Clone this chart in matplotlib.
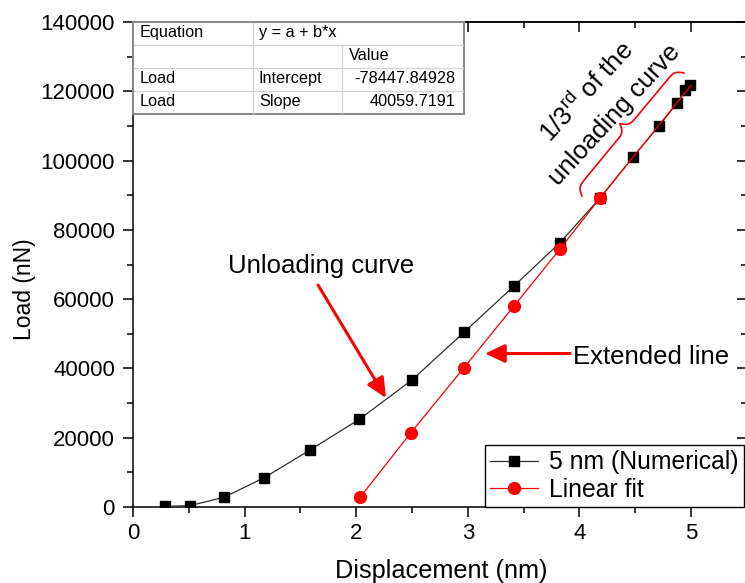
import numpy as np
import matplotlib
matplotlib.use('Agg')
import matplotlib.pyplot as plt
from matplotlib.patches import Rectangle
from matplotlib.lines import Line2D
from matplotlib.ticker import MultipleLocator

plt.rcParams['font.family'] = ['Liberation Sans', 'DejaVu Sans']
plt.rcParams['mathtext.fontset'] = 'custom'
plt.rcParams['mathtext.rm'] = 'Liberation Sans'

# ---- data ----
num_x = [0.287, 0.511, 0.815, 1.176, 1.586, 2.028, 2.50, 2.966, 3.414, 3.826,
         4.185, 4.48, 4.713, 4.875, 4.946, 4.99]
num_y = [200, 400, 2800, 8460, 16450, 25320, 36660, 50430, 63790, 76300,
         89200, 101000, 110000, 116600, 120400, 121800]
fit_x = [2.035, 2.49, 2.966, 3.414, 3.826, 4.185]
fit_y = [2800, 21450, 40210, 58020, 74470, 89200]
fit_ext_x = [4.185, 5.0]
fit_ext_y = [89200, 121700]

series_labels = ["5 nm (Numerical)", "Linear fit"]
x_label = "Displacement (nm)"
y_label = "Load (nN)"

table_rows = [["Equation", "y = a + b*x", ""],
              ["", "", "Value"],
              ["Load", "Intercept", "-78447.84928"],
              ["Load", "Slope", "40059.7191"]]

W, H = 745, 583
fig = plt.figure(figsize=(W / 100, H / 100), dpi=100)


def fx(px):
    return px / W


def fy(py):
    return 1 - py / H


ax = fig.add_axes([fx(133), fy(507), 613.8 / W, 485 / H])
ax.set_xlim(0, 5.5)
ax.set_ylim(0, 140000)

l1, = ax.plot(num_x, num_y, color='#303030', lw=0.9, marker='s', ms=7.7,
              mfc='black', mec='black', zorder=3)
l2, = ax.plot(fit_x, fit_y, color='red', lw=0.9, marker='o', ms=8.5,
              mfc='red', mec='red', zorder=4)
ax.plot(fit_ext_x, fit_ext_y, color='red', lw=0.9, zorder=4)

for sp in ax.spines.values():
    sp.set_linewidth(1.1)

ax.xaxis.set_major_locator(MultipleLocator(1))
ax.xaxis.set_minor_locator(MultipleLocator(0.5))
ax.yaxis.set_major_locator(MultipleLocator(20000))
ax.yaxis.set_minor_locator(MultipleLocator(10000))
ax.ticklabel_format(style='plain', axis='y', useOffset=False)
ax.tick_params(which='major', direction='out', length=7, width=1.1,
               labelsize=16, pad=4.5)
ax.tick_params(which='minor', direction='out', length=4, width=1.1)
ax.tick_params(axis='y', which='major', pad=6)

secx = ax.secondary_xaxis('top')
secx.xaxis.set_major_locator(MultipleLocator(1))
secx.xaxis.set_minor_locator(MultipleLocator(0.5))
secx.tick_params(which='major', direction='in', length=7, width=1.1,
                 labeltop=False)
secx.tick_params(which='minor', direction='in', length=4, width=1.1)
secx.spines['top'].set_linewidth(1.1)

secy = ax.secondary_yaxis('right')
secy.yaxis.set_major_locator(MultipleLocator(20000))
secy.yaxis.set_minor_locator(MultipleLocator(10000))
secy.tick_params(which='major', direction='in', length=7, width=1.1,
                 labelright=False)
secy.tick_params(which='minor', direction='in', length=4, width=1.1)

ax.set_xlabel(x_label, fontsize=18.2)
ax.xaxis.label.set_va('center')
ax.xaxis.set_label_coords((441 - 133) / 613.8, (507 - 571) / 485)
ax.set_ylabel(y_label, fontsize=16.5)
ax.yaxis.label.set_va('center')
ax.yaxis.set_label_coords((24 - 133) / 613.8, (507 - 289) / 485)

# ---- annotations ----
red = 'red'
arrow_style = '-|>,head_length=0.75,head_width=0.35'
ax.annotate('', xy=(2.267, 31460), xytext=(1.658, 64080),
            arrowprops=dict(arrowstyle=arrow_style, color=red, lw=2.2,
                            mutation_scale=16, shrinkA=0, shrinkB=0))
ax.annotate('', xy=(3.154, 44300), xytext=(3.916, 44300),
            arrowprops=dict(arrowstyle=arrow_style, color=red, lw=2.2,
                            mutation_scale=16, shrinkA=0, shrinkB=0))
ax.text(0.851, 69570, "Unloading curve", fontsize=18.5, ha='left', va='center')
ax.text(3.943, 43300, "Extended line", fontsize=18.5, ha='left', va='center')

ang = 47.4
ax.text(4.064, 119800, "1/3$^{\\rm rd}$ of the", fontsize=18.5, rotation=ang,
        rotation_mode='anchor', ha='center', va='center')
ax.text(4.315, 113150, "unloading curve", fontsize=18.5, rotation=ang,
        rotation_mode='anchor', ha='center', va='center')

# curly brace (built in display space, converted back to data)
P0 = ax.transData.transform((4.023, 89770))
P1 = ax.transData.transform((4.937, 125280))
d = P1 - P0
L = np.hypot(*d)
t = d / L
n = np.array([-t[1], t[0]])
h = 17.0
beta = 0.42
u_half = np.linspace(0, L / 2, 200)
y_half = 1 / (1 + np.exp(-beta * u_half)) + 1 / (1 + np.exp(-beta * (u_half - L / 2)))
yv = np.concatenate((y_half, y_half[-2::-1]))
uv = np.concatenate((u_half, L - u_half[-2::-1]))
vv = (yv - 0.5) * h
pts = P0 + np.outer(uv, t) + np.outer(vv, n)
dat = ax.transData.inverted().transform(pts)
ax.plot(dat[:, 0], dat[:, 1], color=red, lw=1.2, clip_on=False, zorder=5)

# ---- legend ----
leg = ax.legend([l1, l2], series_labels, loc='lower left',
                bbox_to_anchor=(fx(485), fy(507)), bbox_transform=fig.transFigure,
                frameon=True, fancybox=False, edgecolor='black', framealpha=1,
                borderaxespad=0, borderpad=0.2, handlelength=1.95,
                handletextpad=0.45, labelspacing=0.15, fontsize=17.8)
leg.get_frame().set_linewidth(1.0)

# ---- fit table ----
row_edges = [22.5, 45, 67.5, 90.5, 114]
text_centers = [32.5, 55.5, 78.5, 101.5]

fig.add_artist(Rectangle((fx(133), fy(114)), fx(464) - fx(133), fy(22.5) - fy(114),
                         transform=fig.transFigure, facecolor='white',
                         edgecolor='#8a8a8a', lw=1.5, zorder=10))
for r in row_edges[1:-1]:
    fig.add_artist(Line2D([fx(134), fx(463)], [fy(r), fy(r)], color='#d2d2d2',
                          lw=0.9, transform=fig.transFigure, zorder=11))
fig.add_artist(Line2D([fx(253), fx(253)], [fy(23), fy(113)], color='#d2d2d2',
                      lw=0.9, transform=fig.transFigure, zorder=11))
fig.add_artist(Line2D([fx(342), fx(342)], [fy(45), fy(113)], color='#d2d2d2',
                      lw=0.9, transform=fig.transFigure, zorder=11))

for i, row in enumerate(table_rows):
    yc = fy(text_centers[i])
    if row[0]:
        fig.text(fx(140), yc, row[0], fontsize=11.7, ha='left', va='center', zorder=12)
    if row[1]:
        fig.text(fx(259), yc, row[1], fontsize=11.7, ha='left', va='center', zorder=12)
    if row[2]:
        if i == 1:
            fig.text(fx(349), yc, row[2], fontsize=11.7, ha='left', va='center', zorder=12)
        else:
            fig.text(fx(455), yc, row[2], fontsize=11.7, ha='right', va='center', zorder=12)

fig.savefig('out.png', dpi=100)
